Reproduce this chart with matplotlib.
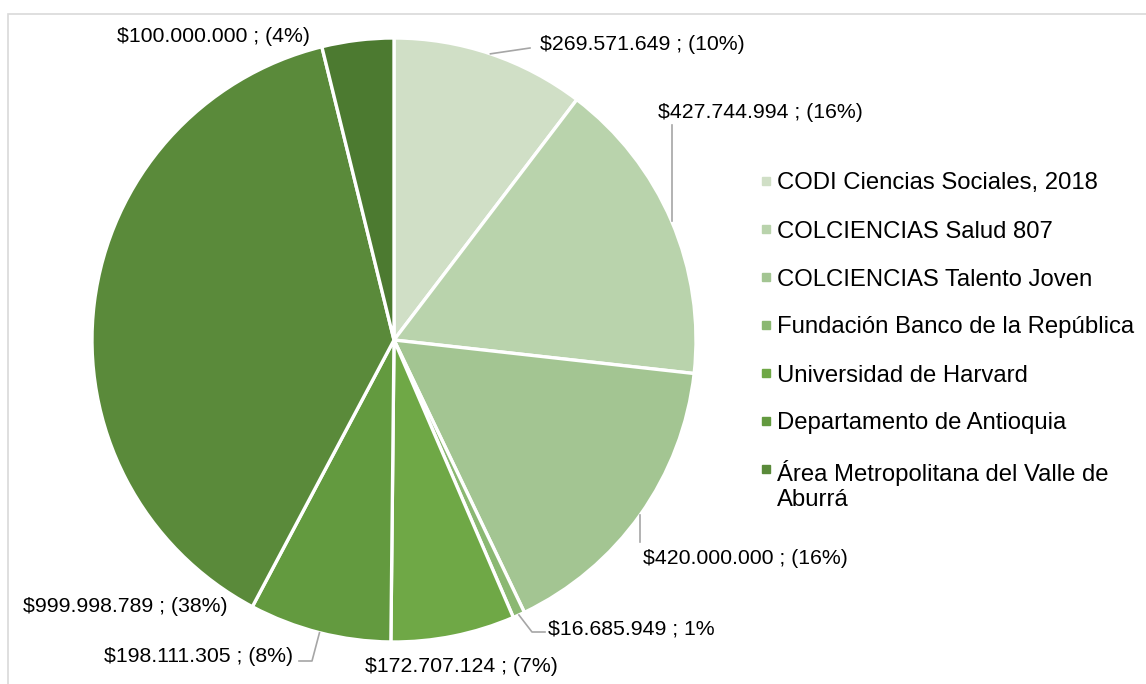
import matplotlib
matplotlib.use("Agg")
import matplotlib.pyplot as plt
import matplotlib.patches as mpatches
import numpy as np

plt.rcParams['font.family'] = ['Liberation Sans', 'DejaVu Sans']

# ---- data ----
categories = [
    "CODI Ciencias Sociales, 2018",
    "COLCIENCIAS Salud 807",
    "COLCIENCIAS Talento Joven",
    "Fundación Banco de la República",
    "Universidad de Harvard",
    "Departamento de Antioquia",
    "Área Metropolitana del Valle de\nAburrá",
    "",
]
values = [269571649, 427744994, 420000000, 16685949, 172707124, 198111305, 999998789, 100000000]
value_labels = [
    "$269.571.649 ; (10%)",
    "$427.744.994 ; (16%)",
    "$420.000.000 ; (16%)",
    "$16.685.949 ; 1%",
    "$172.707.124 ; (7%)",
    "$198.111.305 ; (8%)",
    "$999.998.789 ; (38%)",
    "$100.000.000 ; (4%)",
]
colors = ["#d0dfc6", "#b9d3ac", "#a3c592", "#8bb872", "#6fa846", "#639a3f", "#5a8a3a", "#4c7a30"]
n_legend = 7

W, H = 1146, 684
fig = plt.figure(figsize=(W / 100, H / 100), dpi=100)
ax = fig.add_axes([0, 0, 1, 1])
ax.set_xlim(0, W)
ax.set_ylim(0, H)
ax.set_aspect('equal')
ax.axis('off')

def py(y):
    return H - y

# border
ax.add_patch(mpatches.Rectangle((8, py(700)), W + 20, 686, fill=False,
                                edgecolor="#d9d9d9", linewidth=1.2, clip_on=False))

cx, cy, R = 394, py(340), 302
wedges, _ = ax.pie(values, colors=colors, startangle=90, counterclock=False,
                   center=(cx, cy), radius=R, frame=True,
                   wedgeprops=dict(edgecolor="white", linewidth=2.4))
ax.set_xlim(0, W)
ax.set_ylim(0, H)
ax.axis('off')

total = float(sum(values))
cum = np.cumsum([0] + values)
mid_angles = [np.deg2rad(90 - 360 * (cum[i] + values[i] / 2) / total) for i in range(len(values))]

def edge(i):
    a = mid_angles[i]
    return cx + R * np.cos(a), cy + R * np.sin(a)

fs_lab = 15.3
lc = "#a6a6a6"
lw = 1.2

# label placement (text anchor, alignment) and leader lines
ex, ey = edge(0)
ax.plot([ex, 530], [ey, py(48)], color=lc, lw=lw)
ax.text(540, py(45), value_labels[0], fontsize=fs_lab, ha='left', va='center')

ex, ey = edge(1)
ax.plot([ex, ex], [ey, py(125)], color=lc, lw=lw)
ax.text(658, py(113), value_labels[1], fontsize=fs_lab, ha='left', va='center')

ex, ey = edge(2)
ax.plot([ex, ex], [ey, py(542)], color=lc, lw=lw)
ax.text(643, py(558), value_labels[2], fontsize=fs_lab, ha='left', va='center')

ex, ey = edge(3)
ax.plot([ex, 532, 545], [ey, py(632), py(632)], color=lc, lw=lw)
ax.text(548, py(629), value_labels[3], fontsize=fs_lab, ha='left', va='center')

ax.text(461, py(667), value_labels[4], fontsize=fs_lab, ha='center', va='center')

ex, ey = edge(5)
ax.plot([ex, 312, 299], [ey, py(661), py(661)], color=lc, lw=lw)
ax.text(293, py(657), value_labels[5], fontsize=fs_lab, ha='right', va='center')

ax.text(228, py(606), value_labels[6], fontsize=fs_lab, ha='right', va='center')

ax.text(310, py(37), value_labels[7], fontsize=fs_lab, ha='right', va='center')

# legend (first 7 categories)
fs_leg = 17.2
line_px = 1.2 * fs_leg * 100 / 72
y0 = 181
dy = 48
for i in range(n_legend):
    y = y0 + dy * i
    nlines = categories[i].count("\n")
    ax.plot(766, py(y), marker='s', markersize=6, color=colors[i], linestyle='none')
    ax.text(777, py(y + 8.5 + nlines * line_px), categories[i], fontsize=fs_leg,
            ha='left', va='baseline', linespacing=1.2)

fig.savefig("out.png", dpi=100)
